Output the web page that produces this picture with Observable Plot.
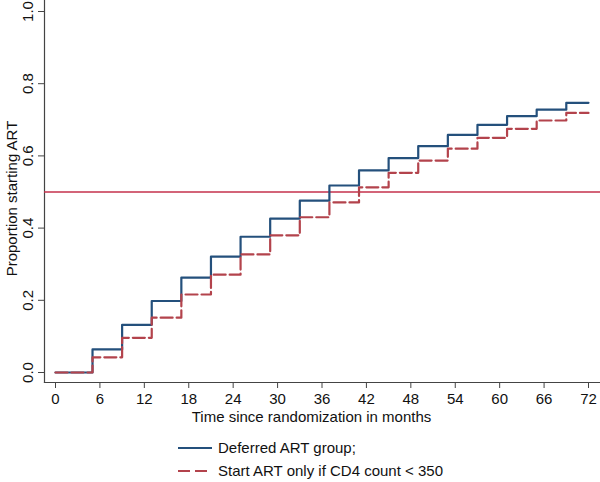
<!DOCTYPE html>
<html>
<head>
<meta charset="utf-8">
<script src="https://cdn.jsdelivr.net/npm/d3@7"></script>
<script src="https://cdn.jsdelivr.net/npm/@observablehq/plot@0.6"></script>
<style>
  html, body { margin: 0; padding: 0; background: #fff; }
  body { width: 600px; height: 482px; overflow: hidden; font-family: "Liberation Sans", Arial, sans-serif; }
  #legend { position: relative; height: 54px; }
  .row { position: absolute; left: 178px; display: flex; align-items: center; font-size: 15px; color: #111; }
  .row svg { margin-right: 6px; }
</style>
</head>
<body>
<div id="chart"></div>
<div id="legend"></div>
<script>
// Data (Kaplan-Meier style step curves)
const months = [0, 5, 9, 13, 17, 21, 25, 29, 33, 37, 41, 45, 49, 53, 57, 61, 65, 69, 72];
const deferred = [0, 0.064, 0.132, 0.198, 0.263, 0.321, 0.376, 0.426, 0.476, 0.518, 0.56, 0.594, 0.627, 0.658, 0.686, 0.71, 0.728, 0.747, 0.747];
const cd4 = [0, 0.042, 0.096, 0.152, 0.216, 0.271, 0.327, 0.38, 0.43, 0.471, 0.513, 0.553, 0.587, 0.62, 0.65, 0.675, 0.698, 0.719, 0.719];
const seriesNames = ["Deferred ART group;", "Start ART only if CD4 count < 350"];
const xTicks = [0, 6, 12, 18, 24, 30, 36, 42, 48, 54, 60, 66, 72];
const yTicks = [0, 0.2, 0.4, 0.6, 0.8, 1.0];
const refLine = [0.5];
const xTitle = "Time since randomization in months";
const yTitle = "Proportion starting ART";

const blue = "#24507c";
const red = "#b3434c";
const refRed = "#c4304b";
const axisColor = "#444";

const dataA = months.map((m, i) => ({month: m, value: deferred[i]}));
const dataB = months.map((m, i) => ({month: m, value: cd4[i]}));

const chart = Plot.plot({
  width: 600,
  height: 428,
  marginLeft: 44,
  marginRight: 0,
  marginTop: 0,
  marginBottom: 46,
  insetLeft: 11,
  insetRight: 12,
  insetTop: 11,
  insetBottom: 10,
  style: {fontFamily: "'Liberation Sans', Arial, sans-serif", fontSize: "15px", color: "#111", background: "#fff"},
  x: {domain: [0, 72]},
  y: {domain: [0, 1]},
  marks: [
    Plot.frame({anchor: "left", stroke: axisColor, strokeWidth: 1.2}),
    Plot.frame({anchor: "bottom", stroke: axisColor, strokeWidth: 1.2}),
    Plot.axisX({ticks: xTicks, tickSize: 6, tickPadding: 5, stroke: axisColor, label: null, fontSize: 15}),
    Plot.axisY({ticks: yTicks, tickSize: 6, tickPadding: 6, tickFormat: d3.format(".1f"), tickRotate: -90, stroke: axisColor, label: null, fontSize: 15}),
    Plot.text([xTitle], {frameAnchor: "bottom", lineAnchor: "bottom", dy: 39, dx: -11, fontSize: 15, fill: "#111"}),
    Plot.text([yTitle], {frameAnchor: "left", textAnchor: "middle", rotate: -90, dx: -32, dy: 7, fontSize: 15, fill: "#111"}),
    Plot.ruleY(refLine, {stroke: refRed, strokeWidth: 1.5}),
    Plot.line(dataA, {x: "month", y: "value", curve: "step-after", stroke: blue, strokeWidth: 2.2}),
    Plot.line(dataB, {x: "month", y: "value", curve: "step-after", stroke: red, strokeWidth: 2.2, strokeDasharray: "12,4"})
  ]
});
document.getElementById("chart").appendChild(chart);

const legend = document.getElementById("legend");
const styles = [{color: blue, dash: null}, {color: red, dash: "12,5"}];
seriesNames.forEach((name, i) => {
  const row = document.createElement("div");
  row.className = "row";
  row.style.top = (i === 0 ? 11 : 34) + "px";
  const s = styles[i];
  row.innerHTML = `<svg width="34" height="10"><line x1="0" x2="34" y1="5" y2="5" stroke="${s.color}" stroke-width="2" ${s.dash ? `stroke-dasharray="${s.dash}"` : ""}/></svg><span>${name}</span>`;
  legend.appendChild(row);
});
</script>
</body>
</html>
